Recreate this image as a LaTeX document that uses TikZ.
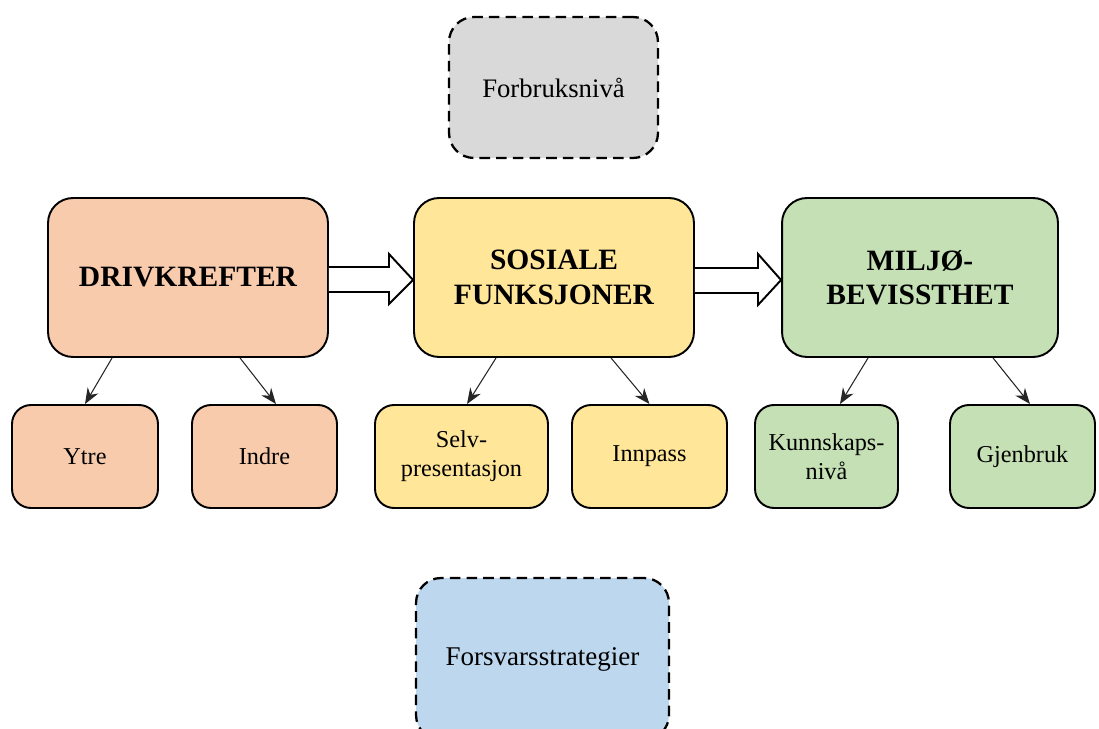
\documentclass[tikz,border=0pt]{standalone}
\usepackage{fontspec}
\setmainfont{Liberation Serif}
\usetikzlibrary{arrows.meta}
\definecolor{corange}{HTML}{F8CBAD}
\definecolor{cyellow}{HTML}{FFE699}
\definecolor{cgreen}{HTML}{C5E0B4}
\definecolor{cblue}{HTML}{BDD7EE}
\definecolor{cgray}{HTML}{D9D9D9}
\tikzset{
  base/.style={draw=black, line width=1.1pt, rounded corners=0.5cm, align=center, inner sep=2pt},
  bigbox/.style={base, minimum width=5.6cm, minimum height=3.18cm, font=\fontsize{16.8}{19.5}\selectfont\bfseries},
  smallbox/.style={base, rounded corners=0.38cm, minimum height=2.06cm, font=\fontsize{13.8}{16.5}\selectfont},
  dashbox/.style={base, line width=1.3pt, dash pattern=on 6pt off 3.5pt},
  arr/.style={-{Stealth[length=9pt,width=7pt]}, line width=0.6pt, draw=black!85},
  dbl/.style={draw=black, line width=1.1pt, fill=white, line join=miter}
}
\begin{document}
\begin{tikzpicture}[x=0.02cm,y=-0.02cm]
\useasboundingbox (0,0) rectangle (1099,729);
\clip (0,0) rectangle (1099,729);

\node[dashbox, fill=cgray, minimum width=4.18cm, minimum height=2.82cm, font=\fontsize{15.2}{18}\selectfont] (forb) at (553.5,87.5) {Forbruksnivå};

\node[bigbox, fill=corange] (driv) at (188,277.5) {DRIVKREFTER};
\node[bigbox, fill=cyellow] (sos) at (554,277.5) {SOSIALE\\FUNKSJONER};
\node[bigbox, fill=cgreen, minimum width=5.52cm] (milj) at (920,277.5) {MILJØ-\\BEVISSTHET};

\node[smallbox, fill=corange, minimum width=2.92cm] (ytre) at (85,456.5) {Ytre};
\node[smallbox, fill=corange, minimum width=2.90cm] (indre) at (264.5,456.5) {Indre};
\node[smallbox, fill=cyellow, minimum width=3.46cm] (selv) at (461.5,456.5) {Selv-\\presentasjon};
\node[smallbox, fill=cyellow, minimum width=3.10cm] (innp) at (649.5,456.5) {Innpass};
\node[smallbox, fill=cgreen, minimum width=2.86cm] (kunn) at (826.5,456.5) {Kunnskaps-\\nivå};
\node[smallbox, fill=cgreen, minimum width=2.90cm] (gjen) at (1022.5,456.5) {Gjenbruk};

\node[dashbox, fill=cblue, minimum width=5.06cm, minimum height=3.24cm, font=\fontsize{15.4}{18}\selectfont] (forsv) at (542.5,659) {Forsvarsstrategier};

% double (hollow) arrows
\draw[dbl] (driv.east |- 0,267) -- (389,267) -- (389,254) -- (sos.west |- 0,280) -- (389,304) -- (389,292) -- (driv.east |- 0,292);
\draw[dbl] (sos.east |- 0,268) -- (758,268) -- (758,254) -- (milj.west |- 0,280) -- (758,305) -- (758,293) -- (sos.east |- 0,293);

% small arrows
\draw[arr] ([xshift=1.30cm]driv.south west) -- (ytre.north);
\draw[arr] ([xshift=3.86cm]driv.south west) -- ([xshift=0.23cm]indre.north);
\draw[arr] ([xshift=1.66cm]sos.south west) -- ([xshift=0.11cm]selv.north);
\draw[arr] ([xshift=3.96cm]sos.south west) -- (innp.north);
\draw[arr] ([xshift=1.74cm]milj.south west) -- ([xshift=0.27cm]kunn.north);
\draw[arr] ([xshift=4.24cm]milj.south west) -- ([xshift=0.15cm]gjen.north);
\end{tikzpicture}
\end{document}
